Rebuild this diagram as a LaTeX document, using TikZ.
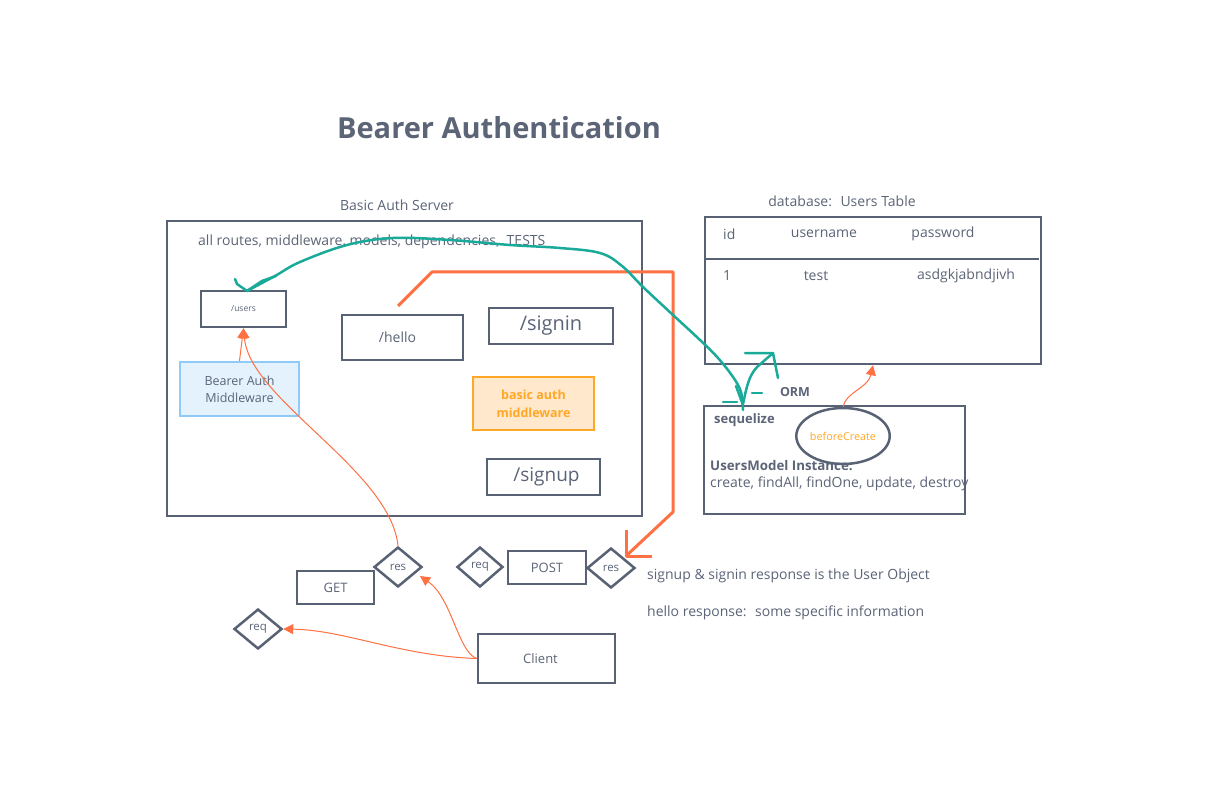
\documentclass[tikz,border=0pt]{standalone}
\usepackage{fontspec}
\setmainfont{Open Sans}
\usetikzlibrary{shapes.geometric,arrows.meta}
\definecolor{dk}{HTML}{596174}
\definecolor{tx}{HTML}{5C6477}
\definecolor{tl}{HTML}{1AAA9A}
\definecolor{org}{HTML}{FF7043}
\definecolor{amb}{HTML}{FFA726}
\definecolor{bfill}{HTML}{E3F2FD}
\definecolor{bline}{HTML}{90CAF9}
\definecolor{ofill}{HTML}{FFE8CC}
\newcommand\fsz[2]{\fontsize{#1}{#2}\selectfont}
\begin{document}
\begin{tikzpicture}[x=1pt,y=-1pt,
  box/.style={draw=dk, line width=2.5pt, inner sep=0pt, text=tx, font=\fsz{12.5}{16}},
  lbl/.style={text=tx, inner sep=0pt, font=\fsz{14}{17}},
  dia/.style={diamond, draw=dk, line width=2.5pt, inner sep=0pt, text=tx, font=\fsz{11.5}{14}, minimum width=48pt, minimum height=40pt},
  oarr/.style={draw=org, line width=1pt, -{Triangle[length=10pt,width=10pt]}},
  othick/.style={draw=org, line width=3pt, line join=round},
  tline/.style={draw=tl, line width=2.5pt, line cap=round, line join=round}]
\useasboundingbox (0,0) rectangle (1209,791);
\fill[white] (0,0) rectangle (1209,791);

% title
\node[lbl, font=\fsz{29}{34}\bfseries] (title) at (499,128) {Bearer Authentication};

% server
\node[lbl] (serverlbl) at (397,205) {Basic Auth Server};
\node[box, minimum width=475pt, minimum height=295pt] (server) at (404.5,368.5) {};
\node[lbl, anchor=west] (allr) at (198,242) {all routes, middleware, models, dependencies,~ TESTS};
\node[box, minimum width=85pt, minimum height=36pt, font=\fsz{8.5}{11}] (users) at (243.5,309) {/users};
\node[box, minimum width=121pt, minimum height=45pt, font=\fsz{14}{18}] (hello) at (402.5,337.5) {\raisebox{-4pt}{/hello\hspace*{10pt}}};
\node[box, minimum width=124pt, minimum height=36pt, font=\fsz{20}{24}] (signin) at (551,326) {/signin};
\node[box, draw=bline, fill=bfill, minimum width=119pt, minimum height=54pt, align=center, font=\fsz{12.5}{17}] (bearer) at (239.5,389) {Bearer Auth\\Middleware};
\node[box, draw=amb, fill=ofill, text=amb, minimum width=121pt, minimum height=53pt, align=center, font=\fsz{12.5}{18}\bfseries] (basic) at (533.5,403.5) {basic auth\\middleware};
\node[box, minimum width=113pt, minimum height=36pt, font=\fsz{19}{24}] (signup) at (543.5,477) {\hspace*{6pt}/signup};

% database
\node[lbl] (dblbl) at (842,201) {database:~ Users Table};
\node[box, minimum width=336pt, minimum height=147pt] (db) at (873,290.5) {};
\draw[dk, line width=2.5pt] (db.west |- 0,259) -- (1039,259);
\node[lbl, anchor=west] (hid) at (723,234) {id};
\node[lbl] (huser) at (824,234) {username};
\node[lbl] (hpass) at (943,234) {password};
\node[lbl] (r1) at (727,276) {1};
\node[lbl] (rtest) at (816,276) {test};
\node[lbl] (rpass) at (966,276) {asdgkjabndjivh};

% sequelize
\node[lbl, font=\fsz{12.5}{16}\bfseries] (orm) at (795,392) {ORM};
\node[box, minimum width=261pt, minimum height=108pt] (seq) at (834.5,460) {};
\node[lbl, anchor=west, font=\fsz{13}{16}\bfseries] (seqlbl) at (714,420) {sequelize};
\node[ellipse, draw=dk, line width=2.5pt, fill=white, minimum width=74pt, minimum height=56pt, inner sep=0pt, text=amb, font=\fsz{10.8}{13}] (bc) at (843,436) {beforeCreate};
\node[lbl, anchor=west, font=\fsz{13.3}{16}\bfseries] (umi) at (710,466) {UsersModel Instance:};
\node[lbl, anchor=west] (meth) at (710,484) {create, findAll, findOne, update, destroy};

% bottom
\node[box, minimum width=77pt, minimum height=33pt, font=\fsz{13}{16}] (get) at (335.5,587.5) {GET};
\node[dia] (res1) at (398,567) {res};
\node[dia] (req1) at (258,629) {req};
\node[dia, minimum width=46pt] (req2) at (480,567) {req};
\node[box, minimum width=78pt, minimum height=33pt, font=\fsz{13}{16}] (post) at (547,567.5) {POST};
\node[dia] (res2) at (611,568) {res};
\node[box, minimum width=137pt, minimum height=49pt, font=\fsz{13}{16}] (client) at (546.5,658.5) {Client\hspace*{12pt}};
\node[lbl, anchor=west] (note1) at (647,576) {signup \& signin response is the User Object};
\node[lbl, anchor=west] (note2) at (647,613) {hello response:~ some specific information};

% orange thin arrows
\draw[oarr] (bearer.north) -- (users.south);
\draw[oarr] (res1.north) .. controls (390,470) and (250,400) .. (users.south);
\coordinate (restip) at (420,576);
\draw[oarr] (client.west) .. controls (458,652) and (452,598) .. (restip);
\draw[oarr] (client.west) .. controls (400,656) and (345,630) .. (req1.east);
\draw[oarr] (bc.north) .. controls (846,392) and (868,388) .. (db.south);

% orange thick path
\coordinate (ostart) at (398,306);
\coordinate (otip) at (626,556);
\draw[othick] (ostart) -- (432,272) -- (673,272) -- (673,512) -- (otip);
\draw[othick] (626,530) -- (otip) -- (652,556);

% teal hand-drawn arrow
\coordinate (tstart) at (743,410);
\coordinate (ttip) at (247,291);
\draw[tline] plot[smooth, tension=0.6] coordinates {(tstart) (741,392) (733,377) (718,358) (700,340) (673,315) (643,287) (622,266) (600,253) (560,248) (510,245) (450,240) (393,238) (347,245) (300,262) (275,276) (ttip)};
\draw[tline] (235,279) -- (237,284) -- (ttip);
\draw[tline] (276,276) -- (262,281) -- (ttip);
\draw[tline] (723,402) -- (737,402);
\draw[tline] (752,393) -- (762,393);
\draw[tline] (736,386) -- (743,405);
\draw[tline] (743,404) .. controls (747,385) and (749,376) .. (757,367) -- (773,353);
\draw[tline] (745,353) -- (773,353) -- (778,378);
\end{tikzpicture}
\end{document}
